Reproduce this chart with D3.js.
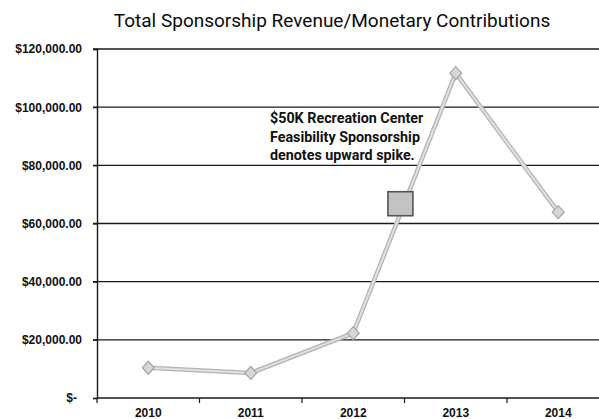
<!DOCTYPE html>
<html>
<head>
<meta charset="utf-8">
<script src="https://cdn.jsdelivr.net/npm/d3@7"></script>
<style>
  html, body { margin: 0; padding: 0; background: #fff; }
  svg { display: block; }
</style>
</head>
<body>
<svg id="chart" width="599" height="419"></svg>
<script>
// Sponsorship revenue by year
const years = ["2010", "2011", "2012", "2013", "2014"];
const revenue = [10400, 8600, 22300, 111700, 63900];

// Value axis ticks
const yTicks = [0, 20000, 40000, 60000, 80000, 100000, 120000];
const yTickLabels = ["$-", "$20,000.00", "$40,000.00", "$60,000.00", "$80,000.00", "$100,000.00", "$120,000.00"];

// Highlight box on the 2012–2013 rise
const highlightFrom = ["2012"];
const highlightStep = [0.46];
const highlightValue = [66800];
const noteLines = ["$50K Recreation Center", "Feasibility Sponsorship", "denotes upward spike."];

const title = "Total Sponsorship Revenue/Monetary Contributions";

const svg = d3.select("#chart");
const W = 599, H = 419;
const plot = { left: 97, top: 49, bottom: 398, band: 102.5 };

const x = d3.scaleBand()
  .domain(years)
  .range([plot.left, plot.left + plot.band * years.length])
  .padding(0);
const xc = d => x(d) + x.bandwidth() / 2;

const y = d3.scaleLinear()
  .domain([0, 120000])
  .range([plot.bottom, plot.top]);

// Title
svg.append("text")
  .attr("x", 332)
  .attr("y", 27)
  .attr("text-anchor", "middle")
  .attr("font-family", "Roboto, 'Liberation Sans', sans-serif")
  .attr("font-size", 19)
  .attr("fill", "#0a0a0a")
  .text(title);

// Horizontal gridlines
svg.append("g")
  .selectAll("line")
  .data(yTicks.slice(1))
  .join("line")
  .attr("x1", plot.left - 4)
  .attr("x2", W + 20)
  .attr("y1", d => y(d))
  .attr("y2", d => y(d))
  .attr("stroke", "#1a1a1a")
  .attr("stroke-width", 1.4);

// Value axis
const yAxis = svg.append("g")
  .attr("transform", `translate(${plot.left},0)`)
  .call(d3.axisLeft(y)
    .tickValues(yTicks)
    .tickSize(4)
    .tickPadding(11)
    .tickFormat((d, i) => yTickLabels[i]));
yAxis.select(".domain").attr("stroke", "#1a1a1a").attr("stroke-width", 1.4);
yAxis.selectAll(".tick line").attr("stroke", "#1a1a1a").attr("stroke-width", 1.2);
yAxis.selectAll(".tick text")
  .attr("font-family", "'Liberation Sans', Arial, sans-serif")
  .attr("font-weight", "bold")
  .attr("font-size", 12)
  .attr("fill", "#111")
  .attr("dx", (d) => d === 0 ? -5 : 0);

// Category axis
const xAxis = svg.append("g")
  .attr("transform", `translate(0,${plot.bottom})`)
  .call(d3.axisBottom(x).tickSize(0).tickPadding(10));
xAxis.select(".domain").remove();
svg.append("line")
  .attr("x1", plot.left).attr("x2", W + 20)
  .attr("y1", plot.bottom).attr("y2", plot.bottom)
  .attr("stroke", "#1a1a1a").attr("stroke-width", 1.6);
svg.append("g")
  .selectAll("line")
  .data(years)
  .join("line")
  .attr("x1", d => x(d)).attr("x2", d => x(d))
  .attr("y1", plot.bottom).attr("y2", plot.bottom + 5)
  .attr("stroke", "#1a1a1a").attr("stroke-width", 1.2);
xAxis.selectAll(".tick text")
  .attr("font-family", "'Liberation Sans', Arial, sans-serif")
  .attr("font-weight", "bold")
  .attr("font-size", 12)
  .attr("fill", "#111");

// Revenue line
const pts = years.map((yr, i) => [xc(yr), y(revenue[i])]);
const line = d3.line().curve(d3.curveLinear);
svg.append("path")
  .attr("d", line(pts))
  .attr("fill", "none")
  .attr("stroke", "#b4b4b4")
  .attr("stroke-width", 4.5)
  .attr("stroke-linejoin", "round");
svg.append("path")
  .attr("d", line(pts))
  .attr("fill", "none")
  .attr("stroke", "#e0e0e0")
  .attr("stroke-width", 2)
  .attr("stroke-linejoin", "round");

// Diamond markers
const diamond = "M0,-6.5L6,0L0,6.5L-6,0Z";
svg.append("g")
  .selectAll("path")
  .data(pts)
  .join("path")
  .attr("d", diamond)
  .attr("transform", d => `translate(${d[0]},${d[1]})`)
  .attr("fill", "#d6d6d6")
  .attr("stroke", "#a6a6a6")
  .attr("stroke-width", 1.2);

// Highlight square
const hx = x(highlightFrom[0]) + x.bandwidth() / 2 + x.step() * highlightStep[0];
const hy = y(highlightValue[0]);
svg.append("rect")
  .attr("x", hx - 12.5)
  .attr("y", hy - 12)
  .attr("width", 25)
  .attr("height", 24)
  .attr("fill", "#c2c2c2")
  .attr("stroke", "#555")
  .attr("stroke-width", 1.6);

// Note text
const note = svg.append("text")
  .attr("font-family", "Roboto, 'Liberation Sans', sans-serif")
  .attr("font-weight", "bold")
  .attr("font-size", 14.3)
  .attr("fill", "#111");
noteLines.forEach((t, i) => {
  note.append("tspan").attr("x", 270).attr("y", 123 + i * 18.5).text(t);
});
</script>
</body>
</html>
